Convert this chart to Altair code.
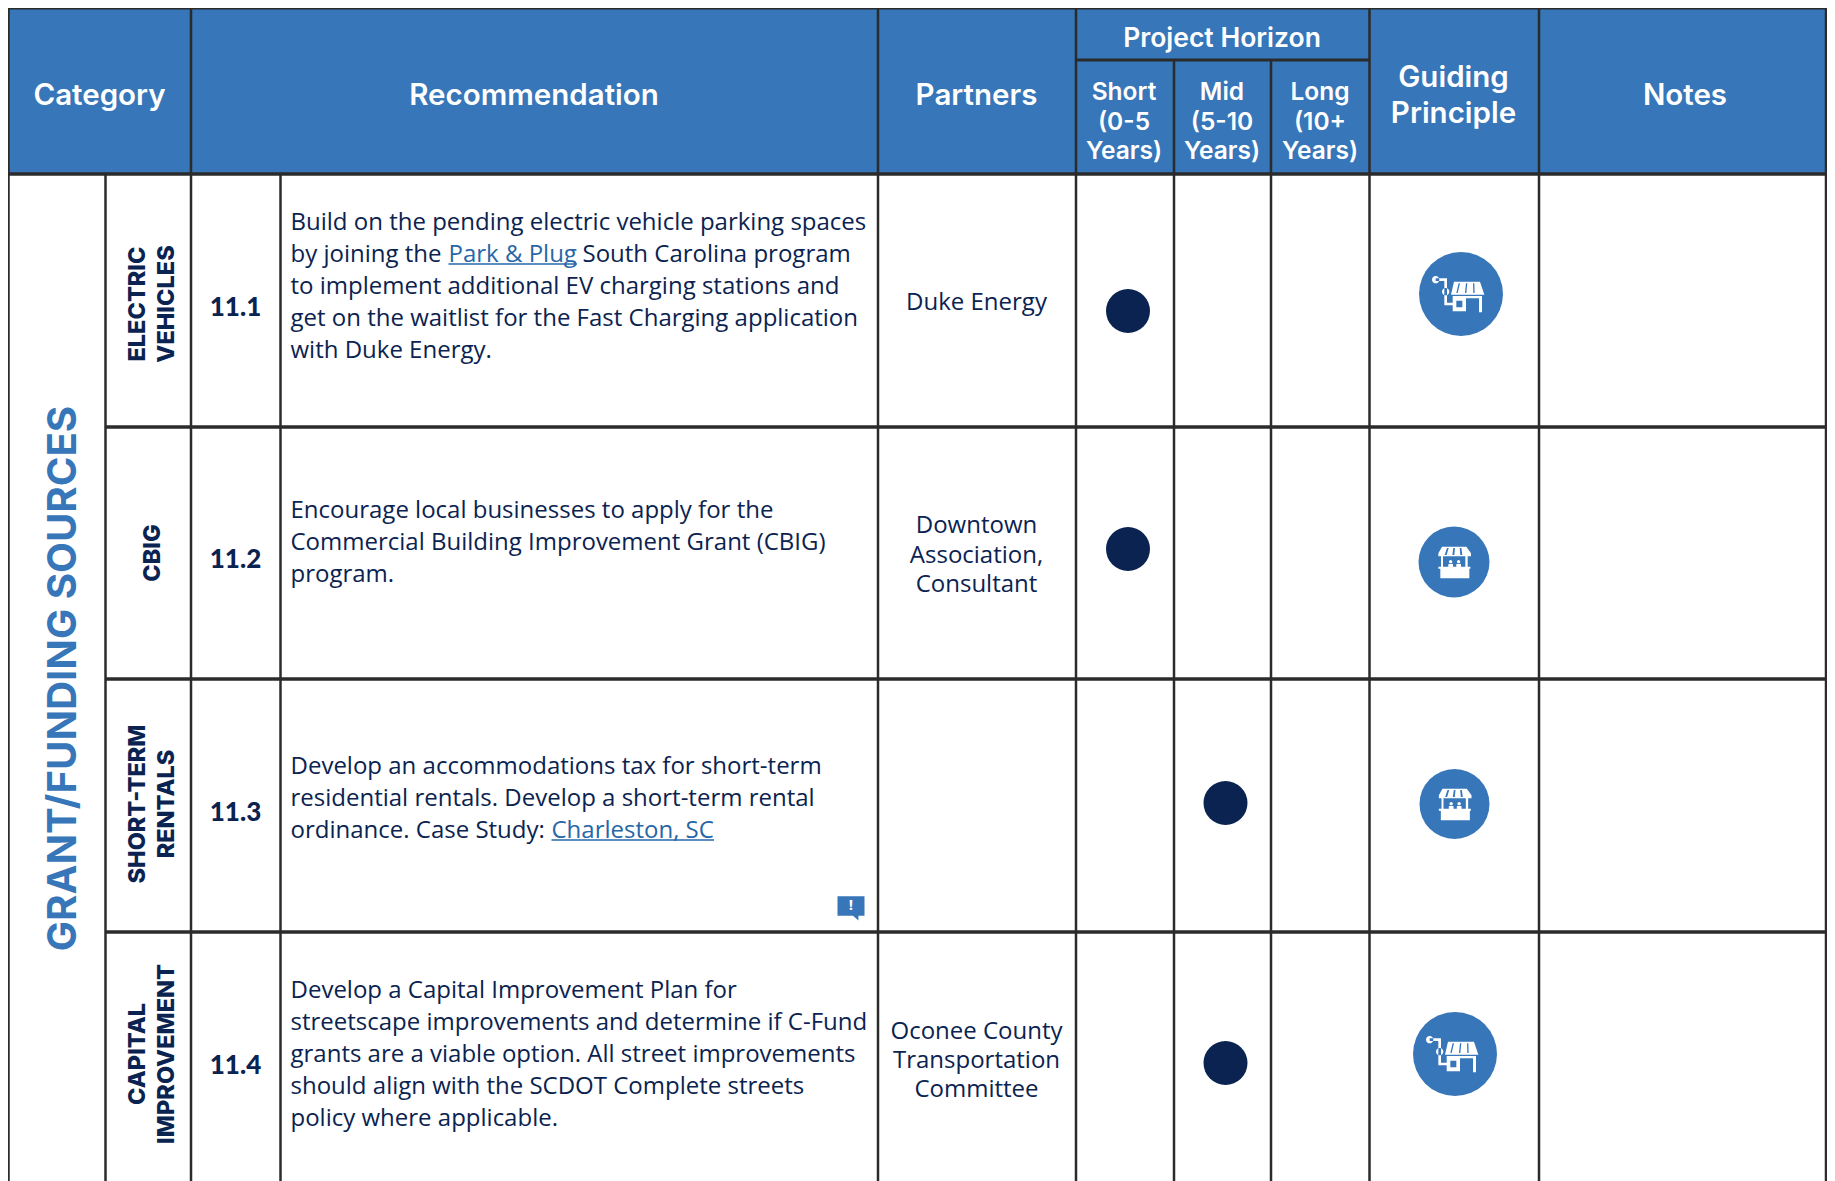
import altair as alt
import pandas as pd

W, H = 1819, 1173
OFF = 8  # page margin

NAVY = "#0b2350"
BLUE = "#3776b8"
LINK = "#2767a6"
LINE = "#2b2b2b"
BODY_FONT = "Open Sans"
HEAD_FONT = "Inter"

# table layout: edges of columns and rows in the picture
col_edges = [8.5, 105.5, 191, 280.5, 878, 1076, 1174, 1271, 1369.5, 1539, 1826]
row_edges = [8, 60, 174, 427, 679, 932, 1181]

# header text
head_single = ["Category", "Recommendation", "Partners", "Notes"]
head_single_x = [99.5, 534, 976.5, 1685]
head_single_y = [96, 96, 96, 96]
head_project = ["Project Horizon"]
head_project_x = [1222]
head_project_y = [38.5]
head_small = ["Short", "(0-5", "Years)", "Mid", "(5-10", "Years)", "Long", "(10+", "Years)"]
head_small_x = [1124, 1124, 1124, 1222, 1222, 1222, 1320, 1320, 1320]
head_small_y = [93, 122.5, 151.5, 93, 122.5, 151.5, 93, 122.5, 151.5]
head_guiding = ["Guiding", "Principle"]
head_guiding_x = [1453.5, 1453.5]
head_guiding_y = [78, 114]

# side labels
side_title = "GRANT/FUNDING SOURCES"
categories = ["ELECTRIC", "VEHICLES", "CBIG", "SHORT-TERM", "RENTALS", "CAPITAL", "IMPROVEMENT"]
category_x = [138, 167, 153, 138, 167, 138, 167]
category_y = [304, 304, 553, 804, 804, 1054, 1054]
ids = ["11.1", "11.2", "11.3", "11.4"]
ids_x = [235.5, 235.5, 235.5, 235.5]
ids_y = [308, 560, 813, 1066]

# recommendation text, one entry per run
plain_runs = [
    "Build on the pending electric vehicle parking spaces", "by joining the", "South Carolina program",
    "to implement additional EV charging stations and", "get on the waitlist for the Fast Charging application",
    "with Duke Energy.",
    "Encourage local businesses to apply for the", "Commercial Building Improvement Grant (CBIG)", "program.",
    "Develop an accommodations tax for short-term", "residential rentals. Develop a short-term rental",
    "ordinance. Case Study:",
    "Develop a Capital Improvement Plan for", "streetscape improvements and determine if C-Fund",
    "grants are a viable option. All street improvements", "should align with the SCDOT Complete streets",
    "policy where applicable.",
]
plain_x = [290.5, 290.5, 582.5] + [290.5] * 14
plain_y = [223, 255, 255, 287, 319, 351, 511, 543, 575, 767, 799, 831, 991, 1023, 1055, 1087, 1119]
link_runs = ["Park & Plug", "Charleston, SC"]
link_x = [448.5, 551.5]
link_x2 = [577, 714]
link_y = [255, 831]
link_rule_y = [264, 840]

partners = ["Duke Energy", "Downtown", "Association,", "Consultant", "Oconee County", "Transportation", "Committee"]
partners_x = [976.5] * 7
partners_y = [302.5, 526, 556, 585, 1032, 1061, 1090]

# horizon dots
dot_x = [1128, 1128, 1225.5, 1225.5]
dot_y = [311, 549, 803, 1063]

# guiding principle badges
badge_x = [1461, 1454, 1454.5, 1455]
badge_y = [294, 562, 804, 1054]
badge_d = [84, 71, 70, 84]


def rect(x0, y0, x1, y1):
    return f"M{x0} {y0}L{x1} {y0}L{x1} {y1}L{x0} {y1}Z"


def hole(x0, y0, x1, y1):
    return f"M{x0} {y0}L{x0} {y1}L{x1} {y1}L{x1} {y0}Z"


def poly(*pts):
    return "M" + "L".join(f"{a} {b}" for a, b in pts) + "Z"


def disc(cx, cy, r):
    return f"M{cx - r} {cy}A{r} {r} 0 1 0 {cx + r} {cy}A{r} {r} 0 1 0 {cx - r} {cy}Z"


def u(v):
    return round(v, 3)


def shop_icon():
    c = (243, 192)
    k = 126
    X = lambda a: u((a - c[0]) / k)
    Y = lambda b: u((b - c[1]) / k)
    parts = [
        disc(X(167), Y(149), 11 / k),
        disc(X(197), Y(185), 11 / k),
        rect(X(167), Y(145), X(201), Y(153)),
        rect(X(193), Y(145), X(201), Y(226)),
        rect(X(193), Y(218), X(222), Y(226)),
        poly((X(222), Y(155)), (X(300), Y(155)), (X(313), Y(194)), (X(213), Y(194))),
        poly((X(236), Y(160)), (X(229), Y(189)), (X(233), Y(189)), (X(240), Y(160))),
        poly((X(258), Y(160)), (X(255), Y(189)), (X(259), Y(189)), (X(262), Y(160))),
        poly((X(279), Y(160)), (X(280), Y(189)), (X(284), Y(189)), (X(283), Y(160))),
        rect(X(218), Y(198), X(306), Y(205)),
        rect(X(297), Y(198), X(306), Y(247)),
        rect(X(218), Y(198), X(258), Y(244)),
        hole(X(229), Y(212), X(247), Y(232)),
    ]
    return "".join(parts)


def stall_icon():
    c = (221, 156)
    k = 106.5
    X = lambda a: u((a - c[0]) / k)
    Y = lambda b: u((b - c[1]) / k)
    parts = [
        poly((X(185), Y(110)), (X(258), Y(110)), (X(272), Y(130)), (X(272), Y(139)), (X(174), Y(139)), (X(174), Y(130))),
        poly((X(200), Y(114)), (X(193), Y(135)), (X(199), Y(135)), (X(205), Y(114))),
        poly((X(219), Y(114)), (X(216), Y(135)), (X(222), Y(135)), (X(224), Y(114))),
        poly((X(238), Y(114)), (X(240), Y(135)), (X(246), Y(135)), (X(243), Y(114))),
        rect(X(182), Y(139), X(188), Y(170)),
        rect(X(255), Y(139), X(262), Y(170)),
        disc(X(211), Y(155), 5 / k),
        disc(X(235), Y(155), 5 / k),
        rect(X(204), Y(162), X(218), Y(170)),
        rect(X(228), Y(162), X(242), Y(170)),
        rect(X(174), Y(170), X(270), Y(176)),
        rect(X(180), Y(176), X(267), Y(205)),
    ]
    return "".join(parts)


def frame(**cols):
    d = pd.DataFrame(cols)
    for c in d.columns:
        if c in ("x", "x2", "y", "y2"):
            d[c] = d[c] - OFF
    return d


sx = alt.Scale(domain=[0, W])
sy = alt.Scale(domain=[H, 0])
X = alt.X("x:Q", scale=sx, axis=None)
Y = alt.Y("y:Q", scale=sy, axis=None)
X2 = alt.X2("x2:Q")
Y2 = alt.Y2("y2:Q")

ce, re = col_edges, row_edges

header = alt.Chart(frame(x=[ce[0]], x2=[ce[-1] + 1], y=[re[0]], y2=[re[2]])).mark_rect(color=BLUE).encode(
    x=X, x2=X2, y=Y, y2=Y2)

v_rows = [
    (ce[0], re[0], re[-1]), (ce[1], re[2], re[-1]), (ce[2], re[0], re[-1]), (ce[3], re[2], re[-1]),
    (ce[4], re[0], re[-1]), (ce[5], re[0], re[-1]), (ce[6], re[1], re[-1]), (ce[7], re[1], re[-1]),
    (ce[8], re[0], re[-1]), (ce[9], re[0], re[-1]), (ce[10], re[0], re[-1]),
]
vlines = frame(x=[a for a, _, _ in v_rows], y=[b for _, b, _ in v_rows], y2=[c for _, _, c in v_rows])
vrule = alt.Chart(vlines).mark_rule(color=LINE, strokeWidth=2.5).encode(x=X, y=Y, y2=Y2)

h_rows = [
    (ce[0], ce[-1], re[0], 3), (ce[5], ce[8], re[1], 3), (ce[0], ce[-1], re[2], 3.5),
    (ce[1], ce[-1], re[3], 3.5), (ce[1], ce[-1], re[4], 3.5), (ce[1], ce[-1], re[5], 3.5),
]
hlines = frame(x=[r[0] for r in h_rows], x2=[r[1] for r in h_rows], y=[r[2] for r in h_rows],
               w=[r[3] for r in h_rows])
hrule = alt.Chart(hlines).mark_rule(color=LINE).encode(
    x=X, x2=X2, y=Y, strokeWidth=alt.StrokeWidth("w:Q", scale=None))


def txt(text, x, y, **kw):
    d = frame(x=x, y=y, t=text)
    return alt.Chart(d).mark_text(baseline="middle", **kw).encode(x=X, y=Y, text="t:N")


layers = [
    header, vrule, hrule,
    txt(head_single, head_single_x, head_single_y, font=HEAD_FONT, fontWeight=600, fontSize=29.5, color="white", align="center"),
    txt(head_project, head_project_x, head_project_y, font=HEAD_FONT, fontWeight=600, fontSize=26.5, color="white", align="center"),
    txt(head_small, head_small_x, head_small_y, font=HEAD_FONT, fontWeight=600, fontSize=24.5, color="white", align="center"),
    txt(head_guiding, head_guiding_x, head_guiding_y, font=HEAD_FONT, fontWeight=600, fontSize=29.5, color="white", align="center"),
    txt([side_title], [63.5], [678.5], font=HEAD_FONT, fontWeight=700, fontSize=40.2, color=BLUE, align="center", angle=270),
    txt(categories, category_x, category_y, font="Inter", fontWeight=800, fontSize=23.5, color=NAVY, align="center", angle=270),
    txt(ids, ids_x, ids_y, font="Lato", fontWeight=900, fontSize=26, color=NAVY, align="center"),
    txt(plain_runs, plain_x, plain_y, font=BODY_FONT, fontSize=24, color=NAVY, align="left"),
    txt(link_runs, link_x, link_y, font=BODY_FONT, fontSize=24, color=LINK, align="left"),
    alt.Chart(frame(x=link_x, x2=link_x2, y=link_rule_y)).mark_rule(color=LINK, strokeWidth=1.5).encode(x=X, x2=X2, y=Y),
    txt(partners, partners_x, partners_y, font=BODY_FONT, fontSize=24, color=NAVY, align="center"),
    alt.Chart(frame(x=dot_x, y=dot_y)).mark_point(shape="circle", filled=True, size=44 ** 2, color=NAVY, opacity=1).encode(x=X, y=Y),
    alt.Chart(frame(x=badge_x, y=badge_y, d2=[d ** 2 for d in badge_d])).mark_point(
        shape="circle", filled=True, color=BLUE, opacity=1).encode(x=X, y=Y, size=alt.Size("d2:Q", scale=None)),
    alt.Chart(frame(x=[badge_x[0], badge_x[3]], y=[badge_y[0], badge_y[3]])).mark_point(
        shape=shop_icon(), filled=True, color="white", opacity=1, size=84 ** 2).encode(x=X, y=Y),
    alt.Chart(frame(x=[badge_x[1], badge_x[2]], y=[badge_y[1], badge_y[2]])).mark_point(
        shape=stall_icon(), filled=True, color="white", opacity=1, size=71 ** 2).encode(x=X, y=Y),
    alt.Chart(frame(x=[851], y=[906])).mark_point(
        shape="M-1 -.72L1 -.72L1 .72L.55 .72L.55 1.08L.15 .72L-1 .72Z", filled=True, color=BLUE, opacity=1, size=27 ** 2
    ).encode(x=X, y=Y),
    txt(["!"], [851], [905], font=BODY_FONT, fontWeight=700, fontSize=15, color="white", align="center"),
]

chart = alt.layer(*layers).properties(width=W, height=H, padding=0, background="white").configure_view(stroke=None)
chart = chart.properties(autosize=alt.AutoSizeParams(type="none"))
chart.save("out.html", embed_options={"renderer": "svg", "actions": False})
